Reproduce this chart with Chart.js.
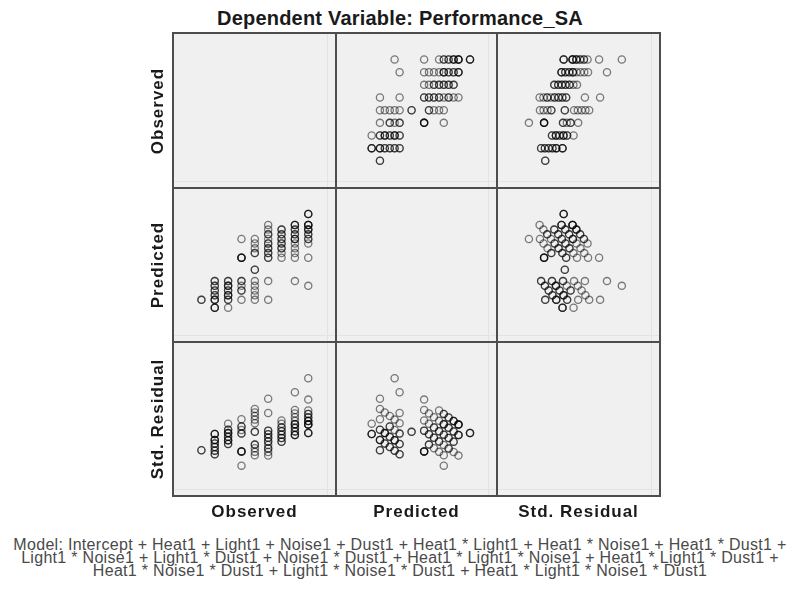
<!DOCTYPE html>
<html>
<head>
<meta charset="utf-8">
<title>Dependent Variable: Performance_SA</title>
<script src="https://cdn.jsdelivr.net/npm/chart.js@4.4.1/dist/chart.umd.min.js"></script>
<style>
  html, body { margin: 0; padding: 0; background: #ffffff; }
  #page { position: relative; width: 793px; height: 590px; overflow: hidden;
          font-family: "Liberation Sans", Arial, sans-serif; color: #1a1a1a; }
  .cell { position: absolute; background: #f0f0f0; }
  .cell canvas { position: absolute; left: 0; top: 0; }
  .inner { position: absolute; background: #e3e3e3; }
  .rule { position: absolute; background: #4d4d4d; }
  #title { position: absolute; left: 0; width: 800px; top: 6px; text-align: center;
           font-weight: bold; font-size: 20px; line-height: 24px; letter-spacing: 0.2px; }
  .colLabel { position: absolute; top: 502px; height: 20px; text-align: center;
              font-weight: bold; font-size: 17px; line-height: 20px; letter-spacing: 1px; white-space: nowrap; }
  .rowLabel { position: absolute; height: 20px; text-align: center; transform: rotate(-90deg);
              transform-origin: 50% 50%; font-weight: bold; font-size: 17px; line-height: 20px;
              letter-spacing: 1px; white-space: nowrap; }
  #model { position: absolute; left: 0; width: 800px; top: 538px; text-align: center;
           font-size: 16px; line-height: 13px; letter-spacing: 0.3px; color: #4a4a4a; white-space: pre; }
</style>
</head>
<body>
<div id="page">
  <div id="title"></div>
  <div id="model"></div>
</div>
<script>
// Variables of the regression diagnostics matrix (one entry per case)
const observed = [
  9, 9, 9,
  6, 8, 8, 8, 9, 9, 9, 9,
  6, 7, 7, 8, 8, 9, 9, 9,
  6, 6, 7, 7, 8, 8, 9, 9,
  4, 5, 6, 7, 7, 8, 8, 8, 9, 9,
  5, 6, 6, 7, 7, 8, 9,
  5, 6, 6, 7, 7, 8,
  5, 5, 6, 6, 7, 8,
  4, 4, 4, 4, 6, 6, 7, 8, 9,
  5, 5,
  2, 2, 3, 3, 4, 4, 5, 6, 8,
  2, 2, 3, 3, 3, 4, 5, 9,
  2, 2, 3, 3, 4, 4, 5,
  2, 2, 3, 3, 3, 5,
  1, 1, 2, 2, 2, 3, 3, 4, 5, 6,
  2, 2, 2, 3
];

const predicted = [
  9.00, 9.00, 9.00,
  8.19, 8.19, 8.19, 8.19, 8.19, 8.19, 8.19, 8.19,
  7.85, 7.85, 7.85, 7.85, 7.85, 7.85, 7.85, 7.85,
  7.50, 7.50, 7.50, 7.50, 7.50, 7.50, 7.50, 7.50,
  7.16, 7.16, 7.16, 7.16, 7.16, 7.16, 7.16, 7.16, 7.16, 7.16,
  6.83, 6.83, 6.83, 6.83, 6.83, 6.83, 6.83,
  6.47, 6.47, 6.47, 6.47, 6.47, 6.47,
  6.12, 6.12, 6.12, 6.12, 6.12, 6.12,
  5.78, 5.78, 5.78, 5.78, 5.78, 5.78, 5.78, 5.78, 5.78,
  4.90, 4.90,
  4.06, 4.06, 4.06, 4.06, 4.06, 4.06, 4.06, 4.06, 4.06,
  3.71, 3.71, 3.71, 3.71, 3.71, 3.71, 3.71, 3.71,
  3.37, 3.37, 3.37, 3.37, 3.37, 3.37, 3.37,
  3.02, 3.02, 3.02, 3.02, 3.02, 3.02,
  2.68, 2.68, 2.68, 2.68, 2.68, 2.68, 2.68, 2.68, 2.68, 2.68,
  2.10, 2.10, 2.10, 2.10
];

const stdResidual = [
  0.00, 0.00, 0.00,
  -1.46, -0.13, -0.13, -0.13, 0.54, 0.54, 0.54, 0.54,
  -1.23, -0.57, -0.57, 0.10, 0.10, 0.77, 0.77, 0.77,
  -1.00, -1.00, -0.33, -0.33, 0.33, 0.33, 1.00, 1.00,
  -2.11, -1.44, -0.77, -0.11, -0.11, 0.56, 0.56, 0.56, 1.23, 1.23,
  -1.22, -0.55, -0.55, 0.11, 0.11, 0.78, 1.45,
  -0.98, -0.31, -0.31, 0.35, 0.35, 1.02,
  -0.75, -0.75, -0.08, -0.08, 0.59, 1.25,
  -1.19, -1.19, -1.19, -1.19, 0.15, 0.15, 0.81, 1.48, 2.15,
  0.07, 0.07,
  -1.37, -1.37, -0.71, -0.71, -0.04, -0.04, 0.63, 1.29, 2.63,
  -1.14, -1.14, -0.47, -0.47, -0.47, 0.19, 0.86, 3.53,
  -0.91, -0.91, -0.25, -0.25, 0.42, 0.42, 1.09,
  -0.68, -0.68, -0.01, -0.01, -0.01, 1.32,
  -1.12, -1.12, -0.45, -0.45, -0.45, 0.21, 0.21, 0.88, 1.55, 2.21,
  -0.07, -0.07, -0.07, 0.60
];

const variableNames = ['Observed', 'Predicted', 'Std. Residual'];
const titleText = 'Dependent Variable: Performance_SA';
const modelLines = [
  'Model: Intercept + Heat1 + Light1 + Noise1 + Dust1 + Heat1 * Light1 + Heat1 * Noise1 + Heat1 * Dust1 +',
  'Light1 * Noise1 + Light1 * Dust1 + Noise1 * Dust1 + Heat1 * Light1 * Noise1 + Heat1 * Light1 * Dust1 +',
  'Heat1 * Noise1 * Dust1 + Light1 * Noise1 * Dust1 + Heat1 * Light1 * Noise1 * Dust1'
];

// ---- layout of the 3 x 3 matrix ----
const page = document.getElementById('page');
const variables = [observed, predicted, stdResidual];
const scaleRange = [
  { min: -0.76, max: 10.71 },   // Observed
  { min: -0.06, max: 10.55 },   // Predicted
  { min: -3.75, max: 5.55 }     // Std. Residual
];
const colEdges = [173, 336, 497, 660];
const rowEdges = [33, 188, 342, 496];

document.getElementById('title').textContent = titleText;
document.getElementById('model').textContent = modelLines.join('\n');

for (let r = 0; r < 3; r++) {
  for (let c = 0; c < 3; c++) {
    const left = colEdges[c], top = rowEdges[r];
    const w = colEdges[c + 1] - left, h = rowEdges[r + 1] - top;
    const cell = document.createElement('div');
    cell.className = 'cell';
    Object.assign(cell.style, { left: left + 'px', top: top + 'px', width: w + 'px', height: h + 'px' });
    // faint inner frame along the right and bottom of each panel
    const iv = document.createElement('div');
    iv.className = 'inner';
    Object.assign(iv.style, { left: (w - 9) + 'px', top: '0px', width: '1px', height: h + 'px' });
    const ih = document.createElement('div');
    ih.className = 'inner';
    Object.assign(ih.style, { left: '0px', top: (h - 7) + 'px', width: w + 'px', height: '1px' });
    cell.appendChild(iv);
    cell.appendChild(ih);
    page.appendChild(cell);

    if (r === c) continue;   // diagonal panels stay empty

    const canvas = document.createElement('canvas');
    canvas.width = w; canvas.height = h;
    canvas.style.width = w + 'px'; canvas.style.height = h + 'px';
    cell.appendChild(canvas);

    const xs = variables[c], ys = variables[r];
    const points = xs.map((v, i) => ({ x: v, y: ys[i] }));

    new Chart(canvas.getContext('2d'), {
      type: 'scatter',
      data: {
        datasets: [{
          data: points,
          pointStyle: 'circle',
          pointRadius: 3.6,
          pointHoverRadius: 3.6,
          borderWidth: 1.3,
          borderColor: 'rgba(0,0,0,0.5)',
          backgroundColor: 'rgba(0,0,0,0)'
        }]
      },
      options: {
        responsive: false,
        animation: false,
        devicePixelRatio: 1,
        events: [],
        layout: { padding: 0 },
        plugins: { legend: { display: false }, tooltip: { enabled: false }, title: { display: false } },
        scales: {
          x: { type: 'linear', display: false, min: scaleRange[c].min, max: scaleRange[c].max },
          y: { type: 'linear', display: false, min: scaleRange[r].min, max: scaleRange[r].max }
        }
      }
    });
  }
}

// panel rules
colEdges.forEach(x => {
  const d = document.createElement('div');
  d.className = 'rule';
  Object.assign(d.style, { left: (x - 1) + 'px', top: (rowEdges[0] - 1) + 'px', width: '2px',
                           height: (rowEdges[3] - rowEdges[0] + 2) + 'px' });
  page.appendChild(d);
});
rowEdges.forEach(y => {
  const d = document.createElement('div');
  d.className = 'rule';
  Object.assign(d.style, { left: (colEdges[0] - 1) + 'px', top: (y - 1) + 'px',
                           width: (colEdges[3] - colEdges[0] + 2) + 'px', height: '2px' });
  page.appendChild(d);
});

// variable labels
variableNames.forEach((name, i) => {
  const cl = document.createElement('div');
  cl.className = 'colLabel';
  cl.textContent = name;
  const cx = (colEdges[i] + colEdges[i + 1]) / 2;
  Object.assign(cl.style, { left: (cx - 80) + 'px', width: '160px' });
  page.appendChild(cl);

  const rl = document.createElement('div');
  rl.className = 'rowLabel';
  rl.textContent = name;
  const cy = (rowEdges[i] + rowEdges[i + 1]) / 2;
  Object.assign(rl.style, { left: (158 - 80) + 'px', top: (cy - 10) + 'px', width: '160px' });
  page.appendChild(rl);
});
</script>
</body>
</html>
